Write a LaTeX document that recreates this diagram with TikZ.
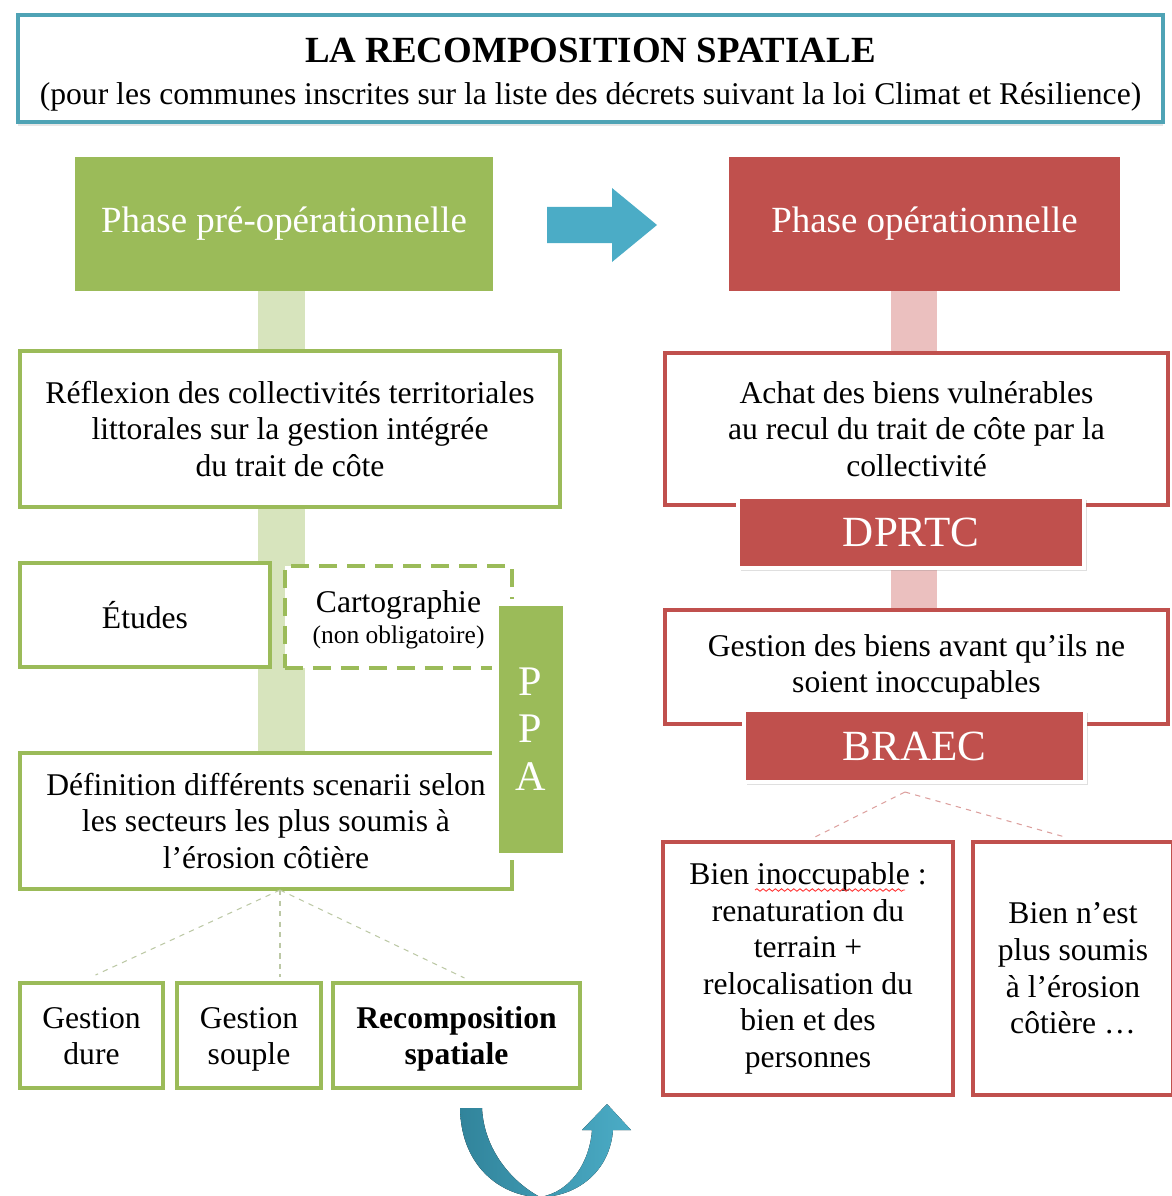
\documentclass[tikz,border=0pt]{standalone}
\usepackage{fontspec}
\setmainfont{Liberation Serif}
\usepackage{tikz}
\usetikzlibrary{arrows.meta,shadows,calc,decorations.pathmorphing}

\definecolor{vert}{HTML}{9BBB59}
\definecolor{vertpale}{HTML}{D7E4BD}
\definecolor{rouge}{HTML}{C0504D}
\definecolor{rougepale}{HTML}{EBC0BF}
\definecolor{bleu}{HTML}{4BACC6}
\definecolor{bleufonce}{HTML}{31849B}
\definecolor{titrebord}{HTML}{4FA3B5}

\newcommand{\corps}{\fontsize{18}{20.6}\selectfont}
\newcommand{\hautligne}{\rule{0pt}{19pt}}

\tikzset{
  sz/.style 2 args={minimum width=#1*0.02cm,minimum height=#2*0.02cm,inner sep=0pt},
  greenbox/.style={draw=vert,line width=0.08cm,fill=white,align=center,font=\corps},
  redbox/.style={draw=rouge,line width=0.08cm,fill=white,align=center,font=\corps},
  phasebox/.style={text=white,align=center,font=\fontsize{21}{25}\selectfont},
  tagbox/.style={fill=rouge,draw=white,line width=0.09cm,text=white,
    font=\fontsize{24.5}{28}\selectfont,drop shadow={opacity=0.25,shadow xshift=0.05cm,shadow yshift=-0.06cm}},
  lien/.style={dashed,line width=0.6pt}
}

\begin{document}
\begin{tikzpicture}[x=0.02cm,y=-0.02cm]
\useasboundingbox (0,0) rectangle (1171,1196);

% bandes de fond
\fill[vertpale] (258,291) rectangle (305,753);
\fill[rougepale] (891,291) rectangle (937,610);

% titre
\node (titre) [draw=titrebord,line width=0.08cm,fill=white,sz={1145}{107},
  drop shadow={opacity=0.2,shadow xshift=0cm,shadow yshift=-0.08cm}] at(590.5,68.5) {};
\node (titretxt) [align=center,inner sep=0pt,font=\fontsize{18}{23.8}\selectfont] at(590.5,75)
  {{\fontsize{21}{23.8}\selectfont\bfseries LA RECOMPOSITION SPATIALE}\\
   (pour les communes inscrites sur la liste des décrets suivant la loi Climat et Résilience)};

% les deux phases
\node (pre) [fill=vert,sz={418}{134},phasebox] at(284,224) {Phase pré-opérationnelle};
\node (op) [fill=rouge,sz={391}{134},phasebox] at(924.5,224) {Phase opérationnelle};
\coordinate (fl) at(547,225);
\fill[bleu] ($(fl)+(0,-18)$) -- ++(65,0) -- ++(0,-19) -- ($(fl)+(110,0)$)
  -- ($(fl)+(65,37)$) -- ++(0,-19) -- ($(fl)+(0,18)$) -- cycle;

% colonne de gauche
\node (refl) [greenbox,sz={540}{156}] at(290,429)
  {Réflexion des collectivités territoriales\\ littorales sur la gestion intégrée\\ du trait de côte};
\node (etudes) [greenbox,sz={250}{104}] at(145,615) {Études};
\node (carto) [greenbox,dashed,dash pattern=on 0.36cm off 0.2cm,sz={227}{102}] at(398.5,617)
  {\rule{0pt}{16pt}Cartographie\\[-3pt] {\fontsize{14.5}{16}\selectfont (non obligatoire)}};
\node (defi) [greenbox,sz={492}{136}] at(266,821)
  {Définition différents scenarii selon\\ les secteurs les plus soumis à\\ l’érosion côtière};
\node (ppa) [fill=vert,draw=white,line width=0.14cm,sz={71}{254},text=white,align=center,
  font=\fontsize{24}{27.2}\selectfont,drop shadow={opacity=0.25,shadow xshift=0.05cm,shadow yshift=-0.06cm}]
  at(530.5,729) {P\\ P\\ A};

\node (gdure) [greenbox,sz={143}{105}] at(91.5,1035.5) {\hautligne Gestion\\ dure\strut};
\node (gsouple) [greenbox,sz={144}{105}] at(249,1035.5) {\hautligne Gestion\\ souple\strut};
\node (recomp) [greenbox,sz={247}{105},font=\corps\bfseries] at(456.5,1035.5) {\hautligne Recomposition\\ spatiale\strut};

\coordinate (dep) at(280,890);
\draw[lien,vert!60!gray!60] (dep) -- ($(gdure.north)+(4,-6)$);
\draw[lien,vert!60!gray!60] (dep) -- ($(gsouple.north)+(31,-4)$);
\draw[lien,vert!60!gray!60] (dep) -- ($(recomp.north)+(8,-3)$);

% colonne de droite
\node (achat) [redbox,sz={503}{152}] at(916.5,429)
  {Achat des biens vulnérables\\ au recul du trait de côte par la\\ collectivité};
\node (dprtc) [tagbox,sz={346}{71}] at(911,532.5) {DPRTC};
\node (gestb) [redbox,sz={503}{114}] at(916.5,667)
  {Gestion des biens avant qu’ils ne\\ soient inoccupables};
\node (braec) [tagbox,sz={341}{72}] at(914.5,746) {BRAEC};

\node (bieni) [redbox,sz={290}{253},font=\fontsize{18}{20.8}\selectfont] at(808,968.5)
  {Bien inoccupable :\\ renaturation du\\ terrain +\\
   relocalisation du\\ bien et des\\ personnes};
\node (bienn) [redbox,sz={200}{253},font=\fontsize{18}{20.8}\selectfont] at(1073,968.5)
  {Bien n’est\\ plus soumis\\ à l’érosion\\ côtière \dots};
% soulignement ondule
\draw[red!80,line width=0.5pt,decorate,decoration={snake,amplitude=0.7pt,segment length=3.5pt}]
  ($(bieni.north)+(-53,50)$) -- ++(150,0);

\coordinate (dep2) at(905,792);
\draw[lien,rouge!55] (dep2) -- ($(bieni.north)+(7,-3)$);
\draw[lien,rouge!55] (dep2) -- ($(bienn.north)+(-8,-3)$);

% fleche en U
\coordinate (u1) at(460,1108);
\coordinate (ubas) at(540,1197);
\coordinate (upointe) at(607,1104);
\fill[left color=bleufonce,right color=bleu]
  (u1) .. controls (461,1170) and (505,1197) .. (ubas)
  .. controls (572,1192) and (590,1160) .. (592,1130)
  -- (582,1130) -- (upointe) -- (631,1130) -- (613,1130)
  .. controls (610,1172) and (576,1197) .. (ubas)
  .. controls (512,1182) and (484,1150) .. (482,1108) -- cycle;
\end{tikzpicture}
\end{document}
